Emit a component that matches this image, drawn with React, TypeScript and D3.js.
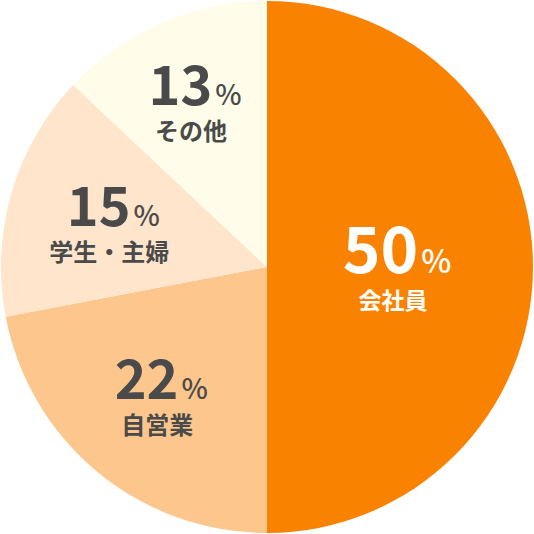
import React from "react";
import * as d3 from "d3";

const categories = ["会社員", "自営業", "学生・主婦", "その他"];
const values = [50, 22, 15, 13];
const colors = ["#F98300", "#FDC68D", "#FEE5CB", "#FFFDEA"];
const textColors = ["#FFFFFF", "#4A4A4A", "#4A4A4A", "#4A4A4A"];
const labelRadii = [130, 166, 160, 181];

const W = 534;
const H = 534;
const R = 266;
const FONT = "'Noto Sans CJK JP', 'Noto Sans', sans-serif";

export default function App() {
  const pie = d3.pie<number>().sort(null).value((d) => d);
  const arcs = pie(values);
  const arc = d3.arc<d3.PieArcDatum<number>>().innerRadius(0).outerRadius(R);

  return (
    <svg
      width={W}
      height={H}
      viewBox={`0 0 ${W} ${H}`}
      style={{ position: "absolute", left: 0, top: 0, background: "#fff" }}
    >
      <g transform={`translate(${W / 2},${H / 2})`}>
        {arcs.map((a, i) => (
          <path key={i} d={arc(a) || ""} fill={colors[i]} />
        ))}
        {arcs.map((a, i) => {
          const lr = labelRadii[i];
          const la = d3.arc<d3.PieArcDatum<number>>().innerRadius(lr).outerRadius(lr);
          const [x, y] = la.centroid(a);
          const big = i === 0;
          const numSize = big ? 64 : 54;
          const pctSize = big ? 32 : 28;
          const labSize = big ? 23 : 24;
          return (
            <g key={"l" + i} transform={`translate(${x},${y})`} fill={textColors[i]} fontFamily={FONT}>
              <text textAnchor="middle" y={big ? 6 : 4} fontWeight={700} fontSize={numSize}>
                {values[i]}
                <tspan fontSize={pctSize} fontWeight={500} dx={3}>%</tspan>
              </text>
              <text textAnchor="middle" x={-4} y={big ? 42 : 39} fontWeight={700} fontSize={labSize}>
                {categories[i]}
              </text>
            </g>
          );
        })}
      </g>
    </svg>
  );
}
